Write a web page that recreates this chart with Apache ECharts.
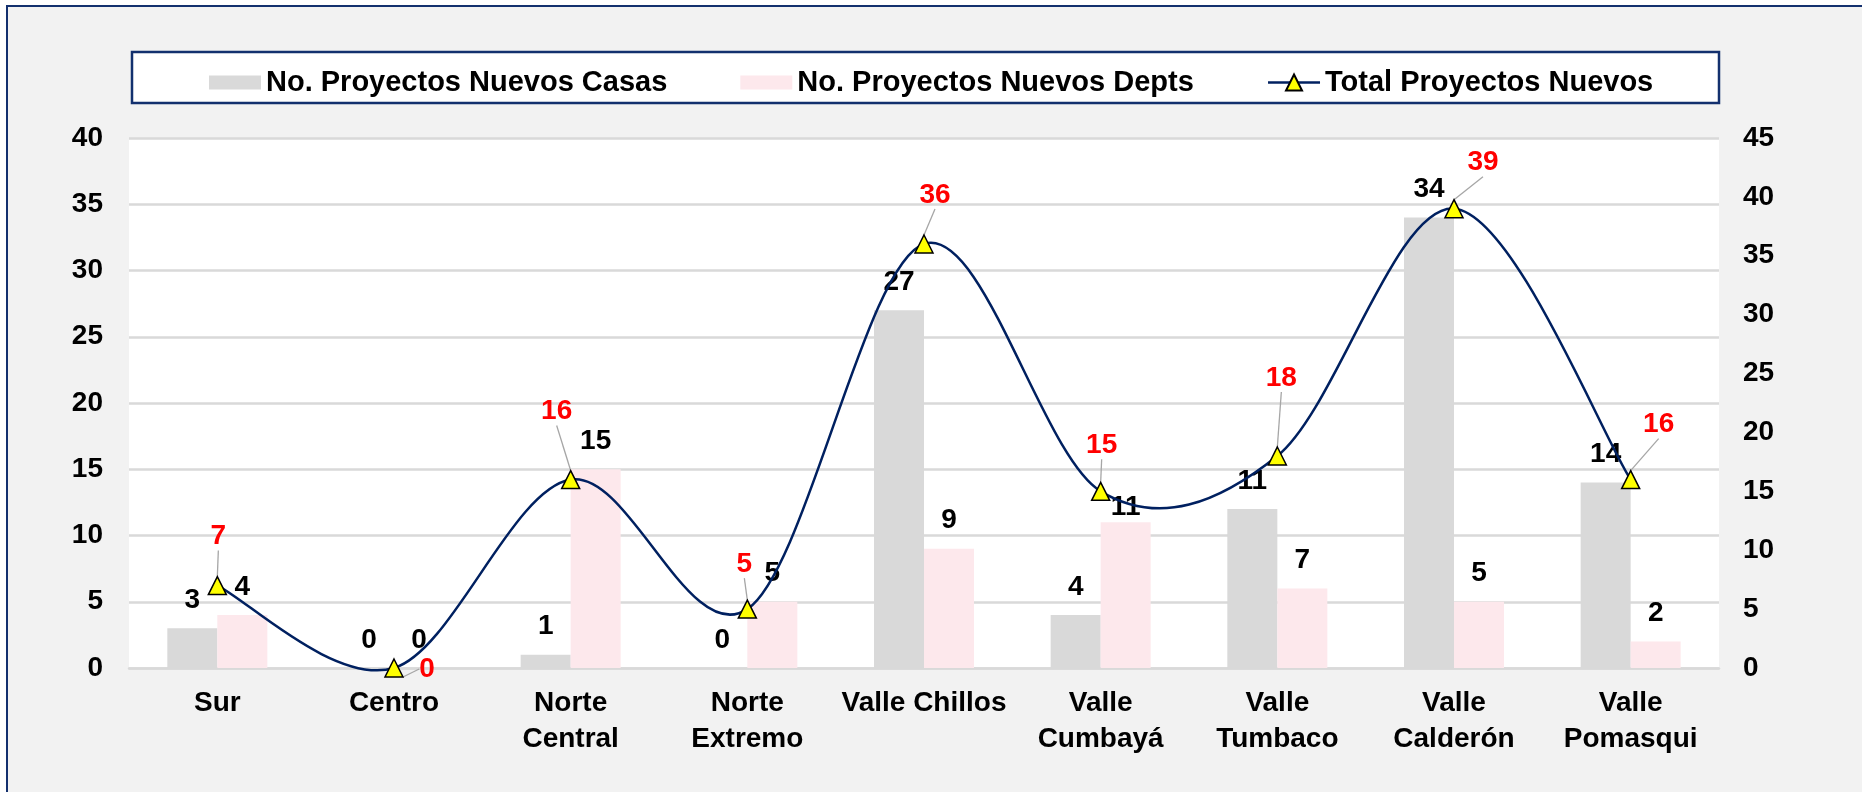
<!DOCTYPE html>
<html>
<head>
<meta charset="utf-8">
<script src="https://cdn.jsdelivr.net/npm/echarts@6/dist/echarts.min.js"></script>
<style>
  html, body { margin: 0; padding: 0; background: #fff; overflow: hidden; }
  .marco {
    position: absolute; left: 6px; top: 5px;
    width: 2000px; height: 1000px;
    border: 2.5px solid #13306E;
    background: #F2F2F2;
  }
  #chart { position: absolute; left: 0; top: 0; width: 1862px; height: 792px; }
</style>
</head>
<body>
<div class="marco"></div>
<div id="chart"></div>
<script>
// datos del grafico
const categorias = ['Sur', 'Centro', 'Norte\nCentral', 'Norte\nExtremo', 'Valle Chillos',
  'Valle\nCumbayá', 'Valle\nTumbaco', 'Valle\nCalderón', 'Valle\nPomasqui'];
const casas = [3, 0, 1, 0, 27, 4, 12, 34, 14];
const casasEtiquetas = [3, 0, 1, 0, 27, 4, 11, 34, 14];
const deptos = [4, 0, 15, 5, 9, 11, 6, 5, 2];
const deptosEtiquetas = [4, 0, 15, 5, 9, 11, 7, 5, 2];
const total = [7, 0, 16, 5, 36, 15, 18, 39, 16];
const ejeIzq = { min: 0, max: 40, interval: 5 };
const ejeDer = { min: 0, max: 45, interval: 5 };

const fuente = 'Liberation Sans, Arial, sans-serif';
const azul = '#13306E';
const azulLinea = '#002060';

// desplazamiento de las etiquetas rojas del total (dx, dy en px)
const despTotal = [[1, -49], [33, 1], [-14, -68], [-3, -45], [11, -49],
  [1, -46], [4, -78], [29, -46], [28, -55]];

let myChart = echarts.init(document.getElementById('chart'), null, { renderer: 'canvas' });

// curva suavizada tipo Excel (Catmull-Rom) entre el punto i y el i+1
function curvaTotal(params, api) {
  const i = params.dataIndex;
  const n = total.length;
  if (i >= n - 1) return null;
  const p = j => api.coord([Math.max(0, Math.min(n - 1, j)), total[Math.max(0, Math.min(n - 1, j))]]);
  const p0 = p(i - 1), p1 = p(i), p2 = p(i + 1), p3 = p(i + 2);
  return {
    type: 'bezierCurve',
    shape: {
      x1: p1[0], y1: p1[1],
      x2: p2[0], y2: p2[1],
      cpx1: p1[0] + (p2[0] - p0[0]) / 6, cpy1: p1[1] + (p2[1] - p0[1]) / 6,
      cpx2: p2[0] - (p3[0] - p1[0]) / 6, cpy2: p2[1] - (p3[1] - p1[1]) / 6
    },
    style: { stroke: azulLinea, lineWidth: 2.5, fill: null }
  };
}

const option = {
  animation: false,
  textStyle: { fontFamily: fuente },
  graphic: {
    elements: [{
      type: 'rect',
      z: 0,
      shape: { x: 132, y: 52, width: 1587, height: 51 },
      style: { fill: '#fff', stroke: azul, lineWidth: 2.5 }
    }]
  },
  legend: {
    z: 10,
    left: 204,
    top: 63,
    itemWidth: 52,
    itemHeight: 20,
    itemGap: 73,
    symbolKeepAspect: true,
    textStyle: { fontSize: 29, fontWeight: 'bold', color: '#000', fontFamily: fuente },
    data: [
      { name: 'No. Proyectos Nuevos Casas', icon: 'path://M0,0H52V14H0Z' },
      { name: 'No. Proyectos Nuevos Depts', icon: 'path://M0,0H52V14H0Z' },
      { name: 'Total Proyectos Nuevos', lineStyle: { color: azulLinea, width: 2.5, opacity: 1 } }
    ]
  },
  grid: {
    left: 129,
    right: 143,
    top: 138,
    bottom: 124,
    show: true,
    backgroundColor: '#fff',
    borderWidth: 0
  },
  xAxis: {
    type: 'category',
    data: categorias,
    axisLine: { lineStyle: { color: '#D9D9D9', width: 2.5 } },
    axisTick: { inside: true, length: 8, lineStyle: { color: '#D9D9D9', width: 2 } },
    axisLabel: {
      interval: 0,
      margin: 17,
      fontSize: 28,
      lineHeight: 36,
      fontWeight: 'bold',
      color: '#000',
      fontFamily: fuente
    }
  },
  yAxis: [
    {
      type: 'value',
      min: ejeIzq.min, max: ejeIzq.max, interval: ejeIzq.interval,
      axisLine: { show: false },
      axisTick: { show: false },
      axisLabel: { margin: 26, fontSize: 28, fontWeight: 'bold', color: '#000', fontFamily: fuente },
      splitLine: { lineStyle: { color: '#D9D9D9', width: 2.5 } }
    },
    {
      type: 'value',
      min: ejeDer.min, max: ejeDer.max, interval: ejeDer.interval,
      axisLine: { show: false },
      axisTick: { show: false },
      axisLabel: { margin: 24, fontSize: 28, fontWeight: 'bold', color: '#000', fontFamily: fuente },
      splitLine: { show: false }
    }
  ],
  series: [
    {
      name: 'No. Proyectos Nuevos Casas',
      type: 'bar',
      data: casas,
      barWidth: 50,
      barGap: '0%',
      itemStyle: { color: '#D9D9D9' },
      label: {
        show: true,
        position: 'top',
        distance: 14,
        fontSize: 28,
        fontWeight: 'bold',
        color: '#000',
        formatter: p => casasEtiquetas[p.dataIndex]
      }
    },
    {
      name: 'No. Proyectos Nuevos Depts',
      type: 'bar',
      data: deptos.map((v, i) => i === 5 ? { value: v, label: { offset: [0, 13] } } : v),
      barWidth: 50,
      itemStyle: { color: '#FDE8EC' },
      label: {
        show: true,
        position: 'top',
        distance: 14,
        fontSize: 28,
        fontWeight: 'bold',
        color: '#000',
        formatter: p => deptosEtiquetas[p.dataIndex]
      }
    },
    {
      name: 'curva total',
      type: 'custom',
      yAxisIndex: 1,
      z: 4,
      silent: true,
      data: total.map((v, i) => [i, v]),
      encode: { x: 0, y: 1 },
      renderItem: curvaTotal
    },
    {
      name: 'Total Proyectos Nuevos',
      type: 'line',
      yAxisIndex: 1,
      data: total,
      z: 5,
      symbol: 'triangle',
      symbolSize: 18,
      lineStyle: { color: azulLinea, width: 2.5, opacity: 0 },
      itemStyle: { color: '#FFFF00', borderColor: '#000', borderWidth: 1.5 },
      label: {
        show: true,
        position: 'inside',
        fontSize: 28,
        fontWeight: 'bold',
        color: '#FF0000'
      },
      labelLine: {
        show: true,
        lineStyle: { color: '#A6A6A6', width: 1.3 }
      },
      labelLayout: function (params) {
        const d = despTotal[params.dataIndex];
        return { dx: d[0], dy: d[1] };
      }
    }
  ]
};

myChart.setOption(option);
window.addEventListener('resize', function () {
  myChart.resize();
});
</script>
</body>
</html>
